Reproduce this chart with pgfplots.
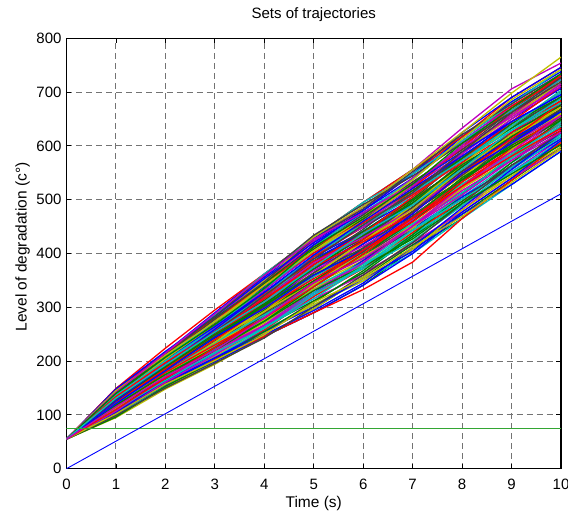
\documentclass[border=0pt]{standalone}
\usepackage{fontspec}
\setmainfont{Liberation Sans}
\usepackage{pgfplots}
\usepackage{pgfplotstable}
\pgfplotsset{compat=1.18}
\definecolor{mb}{rgb}{0,0,1}
\definecolor{mg}{rgb}{0,0.5,0}
\definecolor{mr}{rgb}{1,0,0}
\definecolor{mc}{rgb}{0,0.75,0.75}
\definecolor{mm}{rgb}{0.75,0,0.75}
\definecolor{my}{rgb}{0.75,0.75,0}
\definecolor{mk}{rgb}{0.25,0.25,0.25}
\definecolor{gline}{rgb}{0.2,0.65,0.2}
% one row per trajectory: values at t = 0,1,...,10 s
\pgfplotstableread{
id v0 v1 v2 v3 v4 v5 v6 v7 v8 v9 v10
p1 55 146 216 290 362 428 487 548 609 674 723
p2 55 98 152 204 246 290 341 408 465 536 598
p3 55 136 206 271 344 423 480 548 617 690 746
p4 55 109 162 208 258 305 349 400 465 528 590
p5 55 121 188 247 313 371 418 478 537 601 668
p6 55 127 195 252 307 364 410 462 529 585 645
p7 55 117 177 228 289 357 418 486 561 625 691
p8 55 141 206 266 325 394 441 501 561 617 676
p9 55 103 162 218 277 342 395 462 537 601 668
p10 55 130 198 266 332 408 464 533 593 658 707
p11 55 114 170 223 271 327 372 431 505 569 621
p12 55 144 213 276 344 408 457 517 577 641 699
p13 55 100 159 208 264 320 380 439 513 577 645
p14 55 125 184 237 295 349 395 455 513 577 629
p15 55 119 184 247 307 379 441 501 577 650 707
p16 55 133 195 256 319 379 433 486 553 609 660
p17 55 111 173 232 289 357 410 478 545 617 676
p18 55 138 209 280 350 431 495 556 617 682 730
p19 55 106 159 204 252 312 364 416 481 552 613
p20 55 124 180 232 283 342 387 447 521 593 652
p21 55 127 191 256 325 394 457 509 577 633 684
p22 55 117 180 242 301 371 426 494 553 609 660
p23 55 146 213 280 344 416 464 525 601 666 715
p24 55 98 155 204 258 320 372 439 497 560 629
p25 55 136 198 261 319 386 433 494 569 633 699
p26 55 109 170 223 283 342 403 462 521 585 652
p27 55 130 191 247 301 357 410 478 545 601 660
p28 55 114 177 237 301 364 426 486 545 609 676
p29 55 141 213 285 356 423 480 540 617 682 738
p30 55 103 155 199 246 297 356 416 473 536 606
p31 55 125 191 256 319 394 449 517 585 658 723
p32 55 119 177 228 277 334 380 431 489 552 606
p33 55 138 202 266 338 408 472 525 585 650 715
p34 55 106 166 218 271 334 387 455 521 577 637
p35 55 120 188 242 295 364 426 494 569 641 691
p36 55 133 202 271 332 401 449 501 561 625 676
p37 55 111 166 213 264 312 364 431 497 569 637
p38 55 127 188 242 307 379 433 501 561 617 684
p39 55 117 173 223 283 349 403 470 529 585 645
p40 55 144 209 271 332 401 449 509 585 658 715
p41 55 100 152 199 252 305 349 408 481 544 598
p42 55 130 195 261 325 386 441 494 553 617 668
p43 55 119 180 232 295 357 418 470 537 593 652
p44 55 125 188 252 313 386 441 501 577 633 691
p45 55 138 206 266 325 386 426 478 537 593 652
p46 55 114 173 232 295 357 403 455 513 577 637
p47 55 149 216 280 350 416 472 540 609 674 723
p48 55 95 148 194 246 297 356 423 489 544 606
p49 55 136 202 271 338 416 472 533 593 666 730
p50 55 109 162 213 264 327 387 447 505 560 613
p51 55 123 184 242 307 371 433 494 561 617 676
p52 55 141 209 276 338 401 457 509 569 625 684
p53 55 103 159 213 264 327 372 423 489 560 621
p54 55 133 198 261 332 408 464 525 601 674 730
p55 55 111 170 218 277 342 395 447 521 593 660
p56 55 127 184 237 289 349 403 470 537 609 668
p57 55 130 198 266 338 416 480 548 625 690 746
p58 55 119 180 242 295 349 410 478 537 601 652
p59 55 149 224 295 362 431 495 556 617 674 730
p60 55 144 216 285 362 430 495 548 609 666 723
p61 55 138 209 276 350 423 487 556 633 706 754
p62 55 136 206 276 350 431 487 556 625 698 765
p63 55 122 184 247 301 364 410 478 553 609 668
p64 55 100 155 199 246 290 341 400 473 528 590
p65 55 146 216 280 344 408 464 517 577 641 691
p66 55 106 159 204 246 290 333 384 465 536 606
p67 55 131 200 264 335 412 476 537 613 678 742
p68 55 113 168 220 267 316 360 420 477 540 594
p69 55 123 182 240 292 346 399 466 541 613 672
p70 55 121 186 249 316 383 445 513 581 637 688
p71 55 140 204 264 328 390 437 490 557 613 664
p72 55 104 164 220 274 338 399 459 533 605 664
p73 55 145 215 278 341 412 460 521 597 670 727
p74 55 99 153 206 261 316 376 435 493 548 610
p75 55 129 197 254 310 368 414 466 525 581 641
p76 55 115 171 230 292 360 422 490 565 637 703
p77 55 137 207 278 347 427 483 552 621 678 734
p78 55 107 161 206 255 301 353 404 477 540 610
p79 55 126 189 244 304 375 430 498 565 621 680
p80 55 118 179 240 298 353 406 459 525 597 656
p81 55 142 207 273 335 405 453 505 573 629 688
p82 55 102 161 211 267 331 383 451 517 573 633
p83 55 134 204 268 341 405 460 529 589 654 719
p84 55 110 171 225 286 346 391 443 501 564 617
p85 55 148 218 283 353 420 476 529 589 645 695
p86 55 96 153 201 255 309 368 435 509 581 648
p87 55 123 186 249 310 383 437 505 573 645 711
p88 55 121 179 235 286 338 383 443 501 556 617
p89 55 131 197 259 316 383 430 482 549 605 656
p90 55 113 175 235 298 360 422 482 557 621 672
p91 55 140 211 283 359 434 491 544 605 662 719
p92 55 104 157 206 249 294 345 412 485 556 625
p93 55 129 189 249 304 360 406 466 541 597 648
p94 55 115 179 230 280 338 399 466 533 589 641
p95 55 137 200 259 322 397 453 513 573 637 703
p96 55 107 168 216 267 323 383 451 525 589 656
p97 55 145 211 273 341 405 468 537 613 686 742
p98 55 99 150 196 243 301 360 420 493 564 625
p99 55 126 193 259 328 397 460 521 581 645 695
p100 55 118 175 225 274 331 376 427 493 548 602
p101 55 134 197 254 316 375 422 474 549 613 680
p102 55 110 164 216 261 323 376 443 509 581 641
p103 55 142 215 288 359 427 476 529 597 654 711
p104 55 102 157 201 249 309 353 412 469 532 594
p105 55 129 193 254 322 390 453 513 589 662 727
p106 55 121 182 244 298 360 406 474 549 605 664
p107 55 140 207 268 335 412 468 529 605 670 734
p108 55 110 168 225 280 346 406 466 525 581 633
p109 55 131 193 254 310 375 437 490 557 629 680
p110 55 115 171 220 280 346 391 451 509 573 625
}\traj
\pgfplotstabletranspose[colnames from=id, input colnames to=key]\trajT\traj
\begin{document}
\begin{tikzpicture}
\useasboundingbox (-66.5pt,-42.3pt) rectangle (501.5pt,468.7pt);
\begin{axis}[
  at={(0pt,0pt)}, anchor=south west,
  scale only axis, width=494.5pt, height=430.4pt,
  xmin=0, xmax=10, ymin=0, ymax=800,
  xtick={0,1,...,10}, ytick={0,100,...,800},
  tick align=inside, major tick length=5pt,
  tick style={black, line width=0.8pt},
  axis line style={black, line width=1.5pt},
  grid=major,
  major grid style={black!55, line width=0.9pt, dash pattern=on 6pt off 4pt},
  /pgf/number format/assume math mode=true,
  tick label style={font=\fontsize{15}{18}\selectfont},
  label style={font=\fontsize{15.5}{18}\selectfont},
  title style={font=\fontsize{15}{18}\selectfont, at={(axis description cs:0.5,1.031)}, anchor=base},
  xticklabel style={anchor=base, yshift=-20.6pt},
  yticklabel style={anchor=east, inner sep=0pt, xshift=-4.8pt},
  xlabel style={at={(axis description cs:0.5,-0.0906)}, anchor=base},
  ylabel style={at={(axis description cs:-0.0805,0.515)}, anchor=base},
  title={Sets of trajectories},
  xlabel={Time (s)},
  ylabel={Level of degradation (c°)},
  cycle list={{mb},{mg},{mr},{mc},{mm},{my},{mk}},
  every axis plot/.append style={line width=1.3pt, no markers},
]
\pgfplotsinvokeforeach{1,...,110}{
  \addplot table[x expr=\coordindex, y=p#1] {\trajT};
}
\addplot[color=gline, line width=0.9pt] coordinates {(0,75) (10,75)};
\addplot[color=blue, line width=0.9pt] coordinates {(0,0) (10,511)};
\end{axis}
\end{tikzpicture}
\end{document}
